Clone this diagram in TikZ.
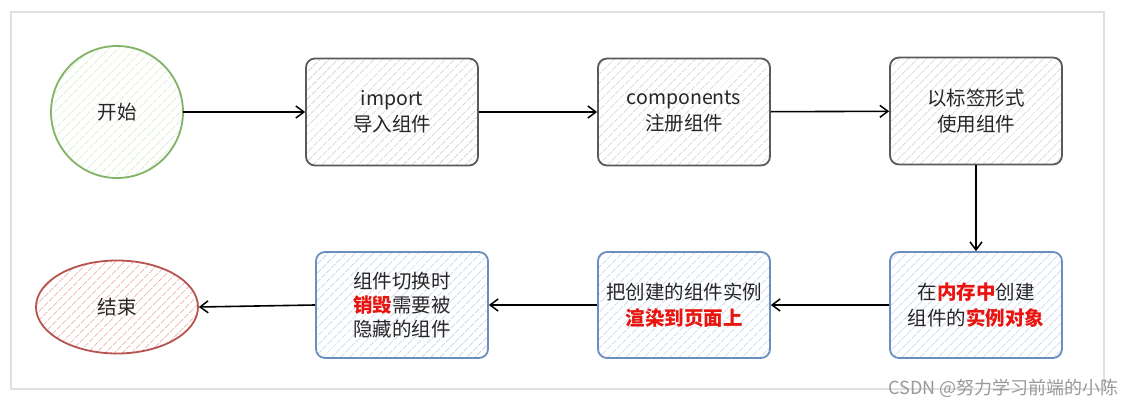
\documentclass[tikz,border=0pt]{standalone}
\usepackage{fontspec}
\setmainfont{Noto Sans CJK SC}
\usetikzlibrary{shapes.geometric,arrows.meta,patterns.meta}
\definecolor{grayline}{HTML}{5A5A5A}
\definecolor{grayhatch}{HTML}{D0D0D0}
\definecolor{blueline}{HTML}{6C8EBF}
\definecolor{bluehatch}{HTML}{BFD2EC}
\definecolor{greenline}{HTML}{82B366}
\definecolor{greenhatch}{HTML}{C9E3BA}
\definecolor{redline}{HTML}{B85450}
\definecolor{redhatch}{HTML}{F0BDBB}
\definecolor{hot}{HTML}{E8140F}
\newcommand{\hl}[1]{\textcolor{hot}{\bfseries #1}}
\tikzset{
  every node/.style={font=\fontsize{19.5}{26}\selectfont, text=black!85},
  hatch/.style={pattern={Lines[angle=45,distance=6.5pt,line width=0.8pt]}, pattern color=#1},
  graybox/.style={draw=grayline, line width=1.8pt, rounded corners=9pt, minimum width=172pt, minimum height=107pt, align=center, inner sep=0pt, hatch=grayhatch},
  bluebox/.style={draw=blueline, line width=1.8pt, rounded corners=9pt, minimum width=172pt, minimum height=106pt, align=center, inner sep=0pt, hatch=bluehatch},
  startnode/.style={circle, draw=greenline, line width=1.8pt, minimum size=132pt, inner sep=0pt, hatch=greenhatch},
  endnode/.style={ellipse, draw=redline, line width=1.8pt, minimum width=162pt, minimum height=93pt, inner sep=0pt, hatch=redhatch},
  flow/.style={draw=black, line width=1.6pt, -{Straight Barb[length=8pt,width=12pt,line width=1.5pt]}},
}
\begin{document}
\begin{tikzpicture}[x=1pt,y=-1pt]
\useasboundingbox (0,0) rectangle (1128,409);
\fill[white] (0,0) rectangle (1128,409);
\draw[black!12, line width=1.2pt] (11,12) rectangle (1104,389);

\node[startnode] (start) at (117,112) {开始};
\node[graybox] (imp) at (392,112) {import\\导入组件};
\node[graybox] (reg) at (684,112) {components\\注册组件};
\node[graybox] (tag) at (976,111) {以标签形式\\使用组件};
\node[bluebox] (mem) at (976,305) {在\hl{内存中}创建\\组件的\hl{实例对象}};
\node[bluebox] (ren) at (684,305) {把创建的组件实例\\\hl{渲染到页面上}};
\node[bluebox, font=\fontsize{19.5}{24}\selectfont] (des) at (402,305) {组件切换时\\\hl{销毁}需要被\\隐藏的组件};
\node[endnode] (fin) at (117,307) {结束};

\draw[flow] (start) -- (imp);
\draw[flow] (imp) -- (reg);
\draw[flow] (reg) -- (tag);
\draw[flow] (tag) -- (mem);
\draw[flow] (mem.west) -- (ren.east);
\draw[flow] (ren.west) -- (des.east);
\draw[flow] (des.west) -- (fin.east);

\node[font=\fontsize{18}{20}\selectfont, text=black!40, anchor=east] (mark) at (1122,388) {CSDN @努力学习前端的小陈};
\end{tikzpicture}
\end{document}
